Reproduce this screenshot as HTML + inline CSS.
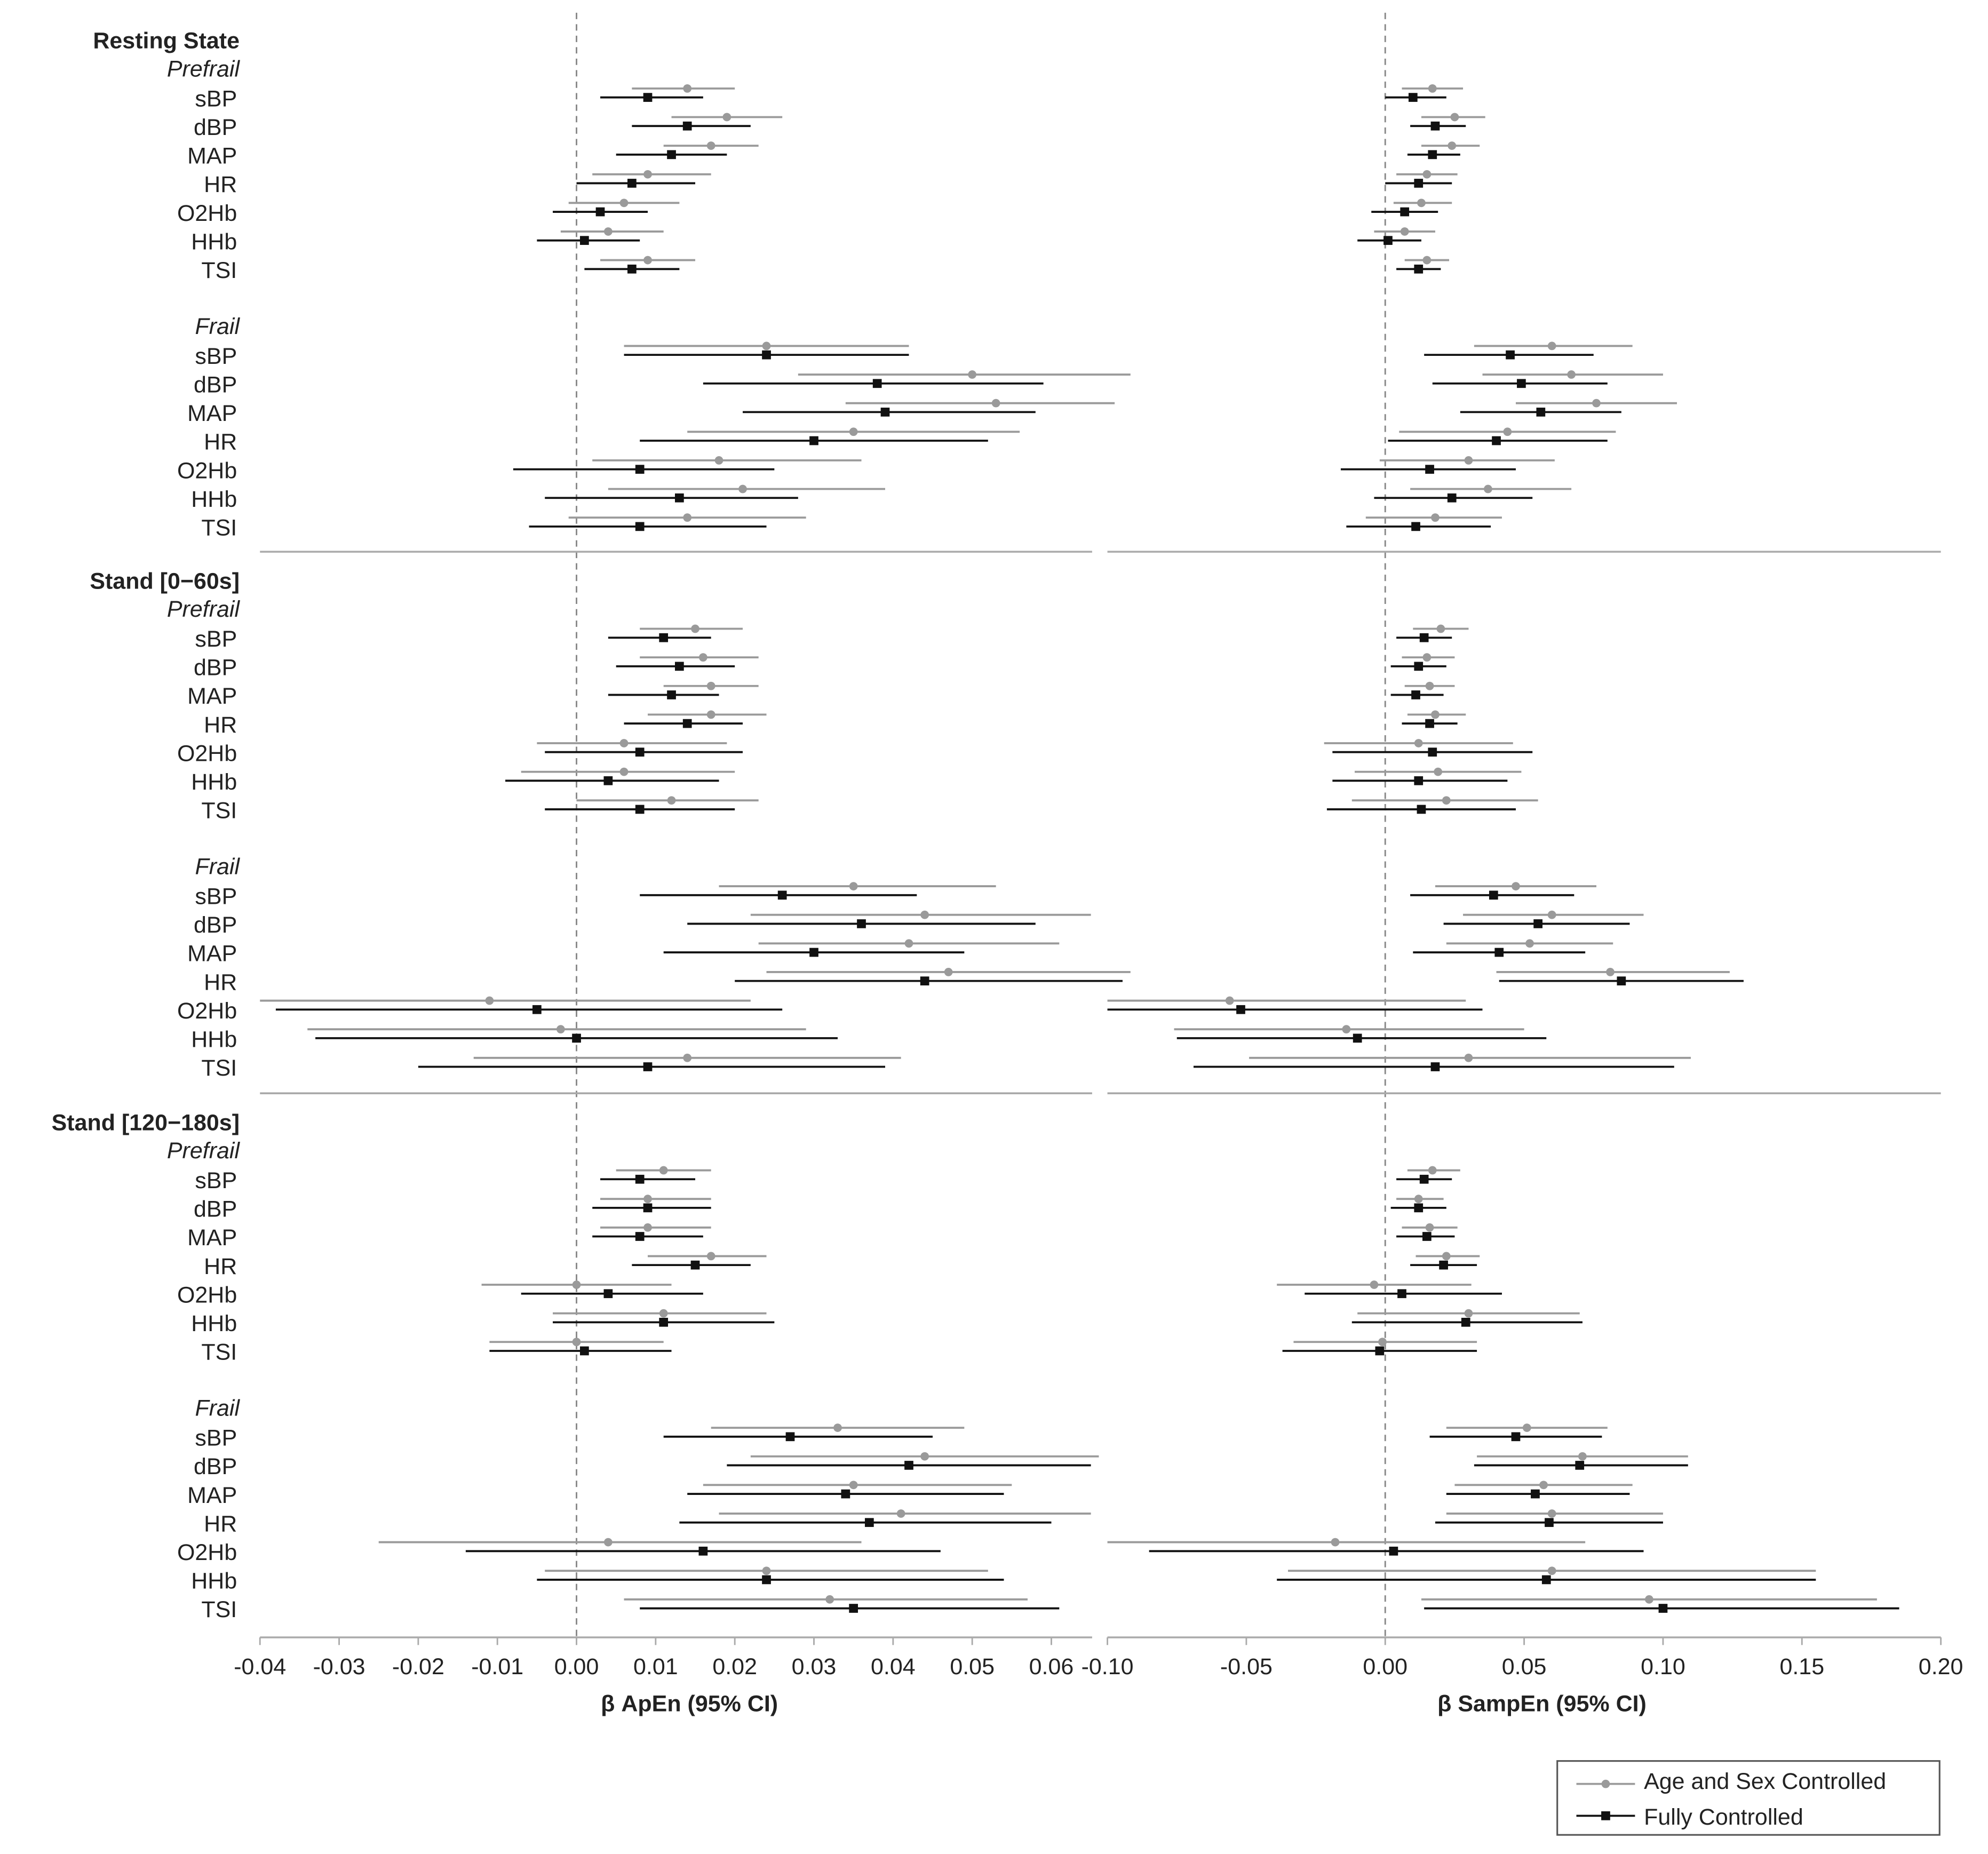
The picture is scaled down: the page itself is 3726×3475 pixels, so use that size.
<!DOCTYPE html>
<html><head><meta charset="utf-8"><style>
html,body{margin:0;padding:0;background:#fff}
svg{display:block}
text{font-family:"Liberation Sans",sans-serif}
</style></head><body>
<svg id="chart" width="3726" height="3475" viewBox="0 0 1560 1455" preserveAspectRatio="none" xmlns="http://www.w3.org/2000/svg"></svg>
<script>
// ----- data -----
const measures = ["sBP","dBP","MAP","HR","O2Hb","HHb","TSI"];
const conditions = ["Resting State","Stand [0\u221260s]","Stand [120\u2212180s]"];
const groups = ["Prefrail","Frail"];
// each row: [grey point, grey lo, grey hi, black point, black lo, black hi]
const apenRestPre = [[.014,.007,.020,.009,.003,.016],[.019,.012,.026,.014,.007,.022],[.017,.011,.023,.012,.005,.019],[.009,.002,.017,.007,.000,.015],[.006,-.001,.013,.003,-.003,.009],[.004,-.002,.011,.001,-.005,.008],[.009,.003,.015,.007,.001,.013]];
const apenRestFrail = [[.024,.006,.042,.024,.006,.042],[.050,.028,.070,.038,.016,.059],[.053,.034,.068,.039,.021,.058],[.035,.014,.056,.030,.008,.052],[.018,.002,.036,.008,-.008,.025],[.021,.004,.039,.013,-.004,.028],[.014,-.001,.029,.008,-.006,.024]];
const sampRestPre = [[.017,.006,.028,.010,.000,.022],[.025,.013,.036,.018,.009,.029],[.024,.013,.034,.017,.008,.027],[.015,.004,.026,.012,.000,.024],[.013,.003,.024,.007,-.005,.019],[.007,-.004,.018,.001,-.010,.013],[.015,.007,.023,.012,.004,.020]];
const sampRestFrail = [[.060,.032,.089,.045,.014,.075],[.067,.035,.100,.049,.017,.080],[.076,.047,.105,.056,.027,.085],[.044,.005,.083,.040,.001,.080],[.030,-.002,.061,.016,-.016,.047],[.037,.009,.067,.024,-.004,.053],[.018,-.007,.042,.011,-.014,.038]];
const apenS1Pre = [[.015,.008,.021,.011,.004,.017],[.016,.008,.023,.013,.005,.020],[.017,.011,.023,.012,.004,.018],[.017,.009,.024,.014,.006,.021],[.006,-.005,.019,.008,-.004,.021],[.006,-.007,.020,.004,-.009,.018],[.012,.000,.023,.008,-.004,.020]];
const apenS1Frail = [[.035,.018,.053,.026,.008,.043],[.044,.022,.065,.036,.014,.058],[.042,.023,.061,.030,.011,.049],[.047,.024,.070,.044,.020,.069],[-.011,-.040,.022,-.005,-.038,.026],[-.002,-.034,.029,.000,-.033,.033],[.014,-.013,.041,.009,-.020,.039]];
const sampS1Pre = [[.020,.010,.030,.014,.004,.024],[.015,.006,.025,.012,.002,.022],[.016,.007,.025,.011,.002,.021],[.018,.008,.029,.016,.006,.026],[.012,-.022,.046,.017,-.019,.053],[.019,-.011,.049,.012,-.019,.044],[.022,-.012,.055,.013,-.021,.047]];
const sampS1Frail = [[.047,.018,.076,.039,.009,.068],[.060,.028,.093,.055,.021,.088],[.052,.022,.082,.041,.010,.072],[.081,.040,.124,.085,.041,.129],[-.056,-.100,.029,-.052,-.100,.035],[-.014,-.076,.050,-.010,-.075,.058],[.030,-.049,.110,.018,-.069,.104]];
const apenS2Pre = [[.011,.005,.017,.008,.003,.015],[.009,.003,.017,.009,.002,.017],[.009,.003,.017,.008,.002,.016],[.017,.009,.024,.015,.007,.022],[.000,-.012,.012,.004,-.007,.016],[.011,-.003,.024,.011,-.003,.025],[.000,-.011,.011,.001,-.011,.012]];
const apenS2Frail = [[.033,.017,.049,.027,.011,.045],[.044,.022,.066,.042,.019,.065],[.035,.016,.055,.034,.014,.054],[.041,.018,.065,.037,.013,.060],[.004,-.025,.036,.016,-.014,.046],[.024,-.004,.052,.024,-.005,.054],[.032,.006,.057,.035,.008,.061]];
const sampS2Pre = [[.017,.008,.027,.014,.004,.024],[.012,.004,.021,.012,.002,.022],[.016,.006,.026,.015,.004,.025],[.022,.011,.034,.021,.009,.033],[-.004,-.039,.031,.006,-.029,.042],[.030,-.010,.070,.029,-.012,.071],[-.001,-.033,.033,-.002,-.037,.033]];
const sampS2Frail = [[.051,.022,.080,.047,.016,.078],[.071,.033,.109,.070,.032,.109],[.057,.025,.089,.054,.022,.088],[.060,.022,.100,.059,.018,.100],[-.018,-.100,.072,.003,-.085,.093],[.060,-.035,.155,.058,-.039,.155],[.095,.013,.177,.100,.014,.185]];
const apenTicks = ["-0.04","-0.03","-0.02","-0.01","0.00","0.01","0.02","0.03","0.04","0.05","0.06"];
const sampTicks = ["-0.10","-0.05","0.00","0.05","0.10","0.15","0.20"];

// ----- layout -----
const NS="http://www.w3.org/2000/svg";
const svg=document.getElementById('chart');
function mk(tag,attrs,parent){const e=document.createElementNS(NS,tag);for(const k in attrs)e.setAttribute(k,attrs[k]);(parent||svg).appendChild(e);return e;}
const L={x0:204,x1:857,min:-0.04,pxPer:6210};
const R={x0:869,x1:1523,min:-0.10,max:0.20};
const xa=v=>L.x0+(v-L.min)*L.pxPer;
const xs=v=>R.x0+(v-R.min)/(R.max-R.min)*(R.x1-R.x0);
const AXY=1285, GREY="#9a9a9a", BLK="#111";
const condY=[32,456,881];
const step=22.45;
const allData=[[apenRestPre,apenRestFrail,sampRestPre,sampRestFrail],[apenS1Pre,apenS1Frail,sampS1Pre,sampS1Frail],[apenS2Pre,apenS2Frail,sampS2Pre,sampS2Frail]];

let z=mk('line',{x1:xa(0),x2:xa(0),y1:10,y2:AXY,stroke:"#888","stroke-width":1.2,"stroke-dasharray":"5,4"});


z=mk('line',{x1:xs(0),x2:xs(0),y1:10,y2:AXY,stroke:"#888","stroke-width":1.2,"stroke-dasharray":"5,4"});



function text(x,y,s,attrs){const t=mk('text',Object.assign({x:x,y:y,"font-size":18,fill:"#222"},attrs||{}));t.textContent=s;return t;}

function drawRow(data,xf,y,name){
  const d=data;
  const g=mk('g',{});
  
  
  const gy=y-7, by=y;
  mk('line',{x1:xf(d[1]),x2:xf(d[2]),y1:gy,y2:gy,stroke:GREY,"stroke-width":1.6},g);
  mk('circle',{cx:xf(d[0]),cy:gy,r:3.3,fill:GREY},g);
  mk('line',{x1:xf(d[4]),x2:xf(d[5]),y1:by,y2:by,stroke:BLK,"stroke-width":1.6},g);
  mk('rect',{x:xf(d[3])-3.5,y:by-3.5,width:7,height:7,fill:BLK},g);
}

condY.forEach((cy,ci)=>{
  const h=text(188,cy+6,conditions[ci],{"text-anchor":"end","font-weight":"bold"});
  
  
  groups.forEach((gname,gi)=>{
    const gy=cy+22+gi*(step*9);
    const gl=text(188,gy+6,gname,{"text-anchor":"end","font-style":"italic"});
    
    
    measures.forEach((m,mi)=>{
      const y=gy+step*(mi+1);
      const ml=text(186,y+7,m,{"text-anchor":"end"});
      
      
      drawRow(allData[ci][gi][mi],xa,y,'apen-row');
      drawRow(allData[ci][2+gi][mi],xs,y,'sampen-row');
    });
  });
});

[433,858].forEach(y=>{
  let s=mk('line',{x1:L.x0,x2:L.x1,y1:y,y2:y,stroke:"#aaa","stroke-width":1.5});
  
  
  s=mk('line',{x1:R.x0,x2:R.x1,y1:y,y2:y,stroke:"#aaa","stroke-width":1.5});
  
  
});

function axis(P,xf,ticks,title,tx,name){
  const a=mk('line',{x1:P.x0,x2:P.x1,y1:AXY,y2:AXY,stroke:"#aaa","stroke-width":1.5});
  
  
  ticks.forEach(t=>{
    const x=xf(parseFloat(t));
    mk('line',{x1:x,x2:x,y1:AXY,y2:AXY+6,stroke:"#aaa","stroke-width":1.2});
    const tl=text(x,AXY+29,t,{"text-anchor":"middle"});
    
    
  });
  const tt=text(tx,1343,title,{"text-anchor":"middle","font-weight":"bold"});
  
  
}
axis(L,xa,apenTicks,"\u03B2 ApEn (95% CI)",541,'apen');
axis(R,xs,sampTicks,"\u03B2 SampEn (95% CI)",1210,'sampen');

const lg=mk('g',{});


mk('rect',{x:1222,y:1382,width:300,height:58,fill:"#fff",stroke:"#555","stroke-width":1.3},lg);
mk('line',{x1:1237,x2:1283,y1:1400,y2:1400,stroke:GREY,"stroke-width":1.6},lg);
mk('circle',{cx:1260,cy:1400,r:3.3,fill:GREY},lg);
mk('line',{x1:1237,x2:1283,y1:1425,y2:1425,stroke:BLK,"stroke-width":1.6},lg);
mk('rect',{x:1256.5,y:1421.5,width:7,height:7,fill:BLK},lg);
let le=text(1290,1404,"Age and Sex Controlled");


le=text(1290,1432,"Fully Controlled");


</script>
</body></html>
